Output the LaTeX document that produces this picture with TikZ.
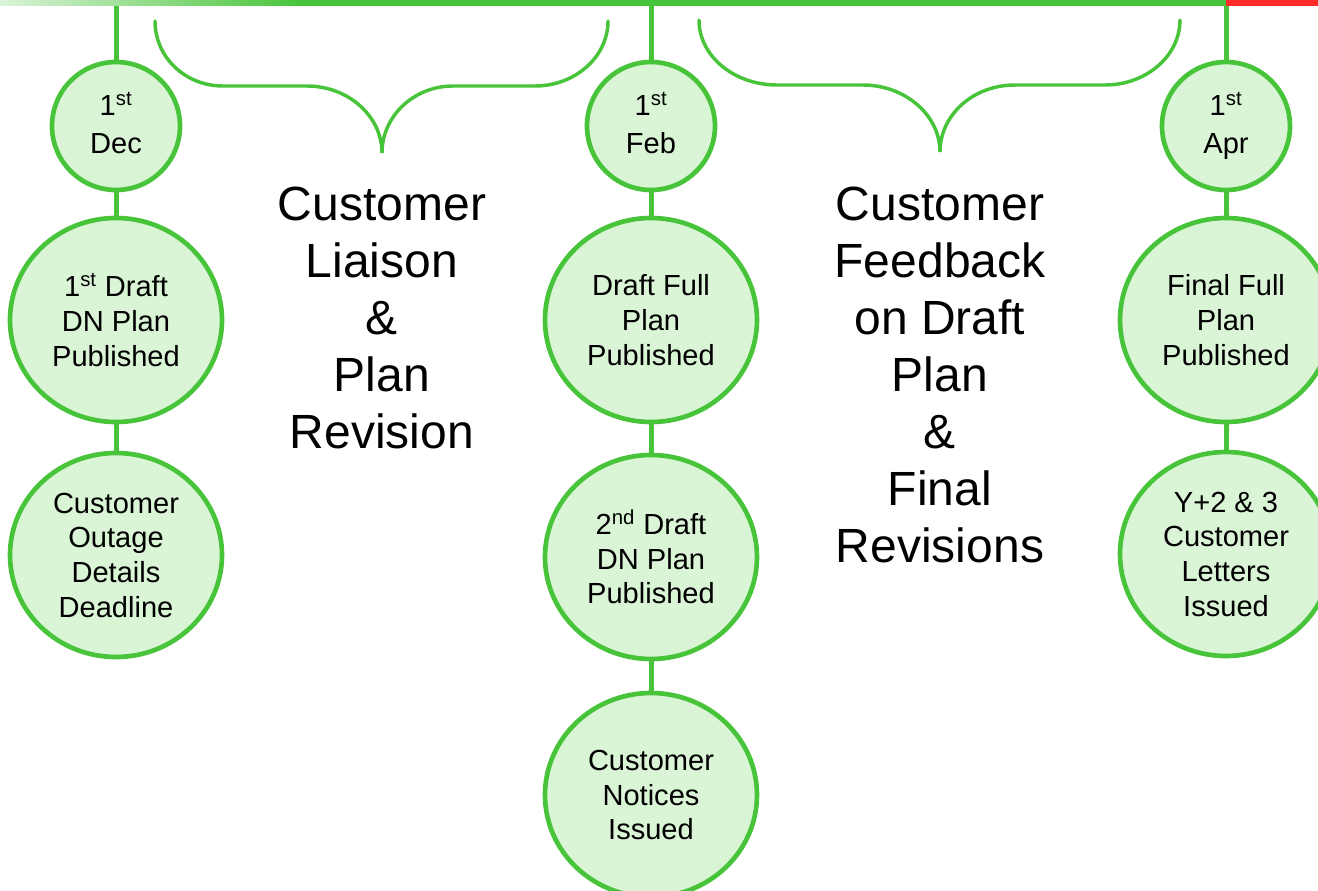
\documentclass[tikz,border=0pt]{standalone}
\usepackage{fontspec}
\setmainfont{Liberation Sans}
\usetikzlibrary{shapes.geometric,backgrounds}
\definecolor{grn}{HTML}{48C43A}
\definecolor{lgrn}{HTML}{DAF4D6}
\definecolor{rd}{HTML}{FF2B2B}
\begin{document}
\begin{tikzpicture}[x=0.75pt,y=-0.75pt,
  small/.style={ellipse, draw=grn, fill=lgrn, line width=3.5pt, minimum width=96pt, minimum height=96pt, inner sep=0pt, align=center, font=\fontsize{21.8}{28}\selectfont},
  big/.style={small, minimum width=159pt, minimum height=153pt, font=\fontsize{21.8}{26}\selectfont},
  link/.style={draw=grn, line width=3.75pt},
  brace/.style={draw=grn, line width=2.6pt, line cap=round},
  phase/.style={align=center, font=\fontsize{36}{42.75}\selectfont, inner sep=0pt}]
\useasboundingbox (0,0) rectangle (1318,890);
\clip (0,0) rectangle (1318,890);
% top bar
\shade[left color=grn!20, right color=grn] (0,0) rectangle (300,5.5);
\fill[grn] (299,0) rectangle (1226,5.5);
\fill[rd] (1226,0) rectangle (1318,5.5);
\coordinate (dtop) at (116,4);
\coordinate (ftop) at (651,4);
\coordinate (atop) at (1226,4);
% Dec column
\node[small] (d0) at (116,126) {1\textsuperscript{st}\\Dec\vphantom{p}};
\node[big] (d1) at (116,320) {1\textsuperscript{st} Draft\\DN Plan\\Published};
\node[big] (d2) at (116,555) {Customer\\Outage\\Details\\Deadline};
% Feb column
\node[small] (f0) at (651,126) {1\textsuperscript{st}\\Feb\vphantom{p}};
\node[big] (f1) at (651,320) {Draft Full\\Plan\\Published};
\node[big] (f2) at (651,557) {2\textsuperscript{nd} Draft\\DN Plan\\Published};
\node[big] (f3) at (651,795) {Customer\\Notices\\Issued};
% Apr column
\node[small] (a0) at (1226,126) {1\textsuperscript{st}\\Apr};
\node[big] (a1) at (1226,320) {Final Full\\Plan\\Published};
\node[big] (a2) at (1226,554) {Y+2 \& 3\\Customer\\Letters\\Issued};
% connectors
\begin{scope}[on background layer]
\draw[link] (dtop) -- (d0);
\draw[link] (d0) -- (d1);
\draw[link] (d1) -- (d2);
\draw[link] (ftop) -- (f0);
\draw[link] (f0) -- (f1);
\draw[link] (f1) -- (f2);
\draw[link] (f2) -- (f3);
\draw[link] (atop) -- (a0);
\draw[link] (a0) -- (a1);
\draw[link] (a1) -- (a2);
\end{scope}
% braces
\draw[brace] (155,21) .. controls (155,57) and (185,86) .. (223,86) -- (307,86)
  .. controls (348,86) and (382,116) .. (382,153)
  .. controls (382,116) and (414,86) .. (453,86) -- (535,86)
  .. controls (575,86) and (608,57) .. (608,21);
\draw[brace] (699,20) .. controls (699,56) and (734,85) .. (777,85) -- (863,85)
  .. controls (905,85) and (940,115) .. (940,152)
  .. controls (940,115) and (973,85) .. (1015,85) -- (1105,85)
  .. controls (1146,85) and (1180,56) .. (1180,20);
% phase texts
\node[phase] (p1) at (382,318) {Customer\\Liaison\\\&\\Plan\\Revision};
\node[phase] (p2) at (940,375) {Customer\\Feedback\\on Draft\\Plan\\\&\\Final\\Revisions};
\end{tikzpicture}
\end{document}
